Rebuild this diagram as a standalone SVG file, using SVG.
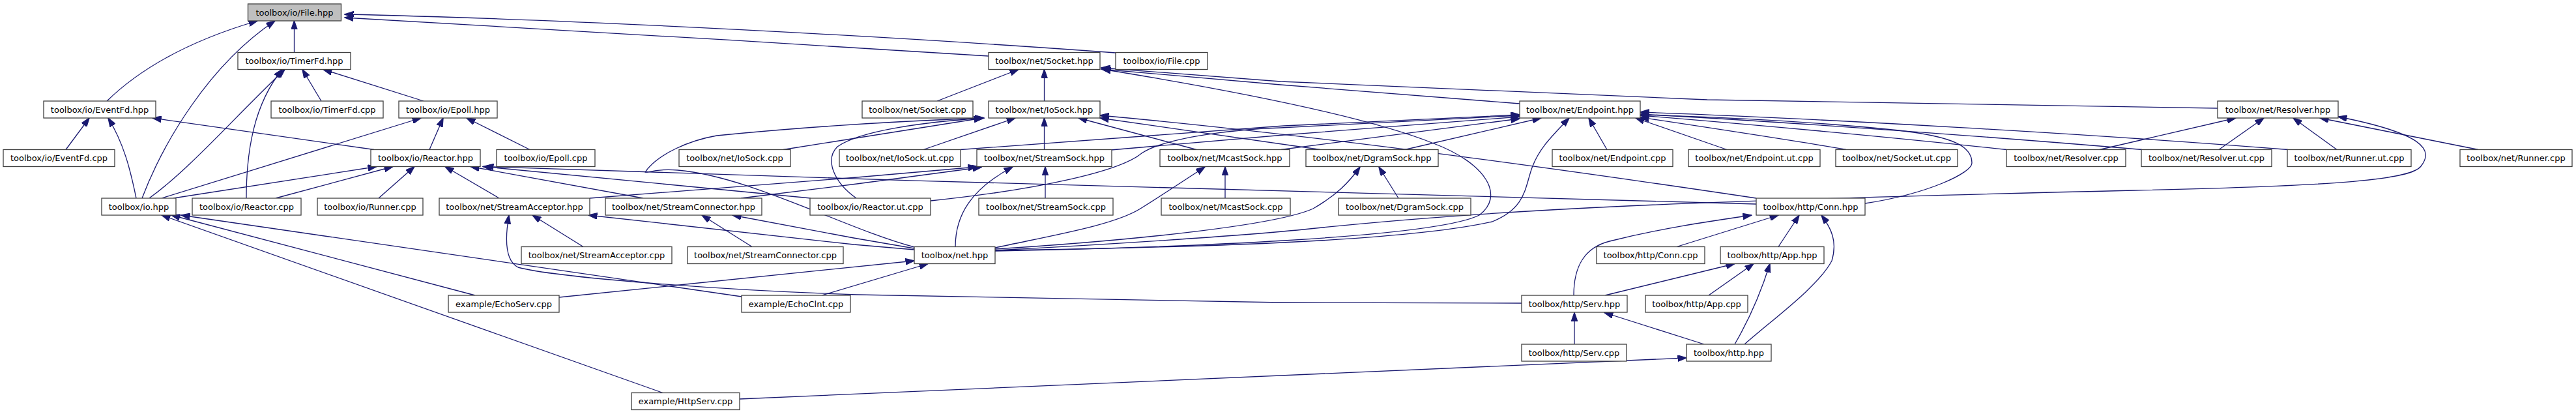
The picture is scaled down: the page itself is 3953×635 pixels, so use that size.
<svg xmlns="http://www.w3.org/2000/svg" width="3953" height="635" viewBox="0 0 3953 635">
<style>
.n rect{fill:#ffffff;stroke:#404040;stroke-width:1.3}
.n.root rect{fill:#bfbfbf}
.n text{font-family:"DejaVu Sans",sans-serif;font-size:13px;fill:#000;text-anchor:middle}
.e path{fill:none;stroke:#191970;stroke-width:1.3;marker-end:url(#arr)}
</style>
<defs>
<marker id="arr" markerUnits="userSpaceOnUse" markerWidth="14" markerHeight="10" viewBox="0 0 13 9" refX="12.5" refY="4.5" orient="auto">
<path d="M0,0 L13,4.5 L0,9 z" fill="#191970" stroke="#191970"/>
</marker>
</defs>
<rect x="0" y="0" width="3953" height="635" fill="#ffffff"/>
<g id="edges" class="e">
<path d="M1712,81 C1400,58 900,30 529,22"/>
<path d="M1517,86 C1200,66 800,42 529,27"/>
<path d="M451.5,80.5 L451.5,32"/>
<path d="M164,155 C200,120 265,70 395,32"/>
<path d="M218,304 C250,220 320,100 422,32"/>
<path d="M209,304 C200,260 190,220 166,181"/>
<path d="M101,229.5 L137,181"/>
<path d="M574,229.5 L234,181"/>
<path d="M229,304 C290,260 350,190 437,106.5"/>
<path d="M378,304 C378,230 390,160 433,106.5"/>
<path d="M493,155 L464,106.5"/>
<path d="M650,155 L496,106.5"/>
<path d="M248,304 L646,181"/>
<path d="M266,304 L578,255.5"/>
<path d="M423,304 L603,255.5"/>
<path d="M581,304 L636,255.5"/>
<path d="M659,229.5 L680,181"/>
<path d="M813,229.5 L716,181"/>
<path d="M766,304 L683,255.5"/>
<path d="M987,304 L722,255.5"/>
<path d="M1244,304 L741,255.5"/>
<path d="M2695,313 C2200,300 1400,279 744,255.5"/>
<path d="M2695,304 C2400,260 2000,205 1688,177"/>
<path d="M2026,229.5 L1688,181"/>
<path d="M1836,229.5 L1655,181"/>
<path d="M1602.5,229.5 L1602.5,181"/>
<path d="M1417,229.5 L1558,181"/>
<path d="M1202,229.5 L1508,181"/>
<path d="M1403,379 C1300,352 1150,270 1040,261 C1005,258 992,266 990,264 C1010,235 1060,215 1100,208 C1250,193 1400,185 1510,181"/>
<path d="M1314,304 C1280,280 1265,245 1285,225 C1320,200 1420,187 1510,181"/>
<path d="M905,304 L1315,272 L1499,256"/>
<path d="M1137,304 L1315,282 L1506,256.5"/>
<path d="M1604,304 L1604,256"/>
<path d="M1466,378.5 C1466,330 1490,290 1554,256"/>
<path d="M1880,304 L1880,256"/>
<path d="M1527,380 C1620,360 1710,345 1750,320 C1790,295 1820,275 1849,256"/>
<path d="M2146,304 L2116,256"/>
<path d="M1527,382 C1750,368 1960,345 2015,320 C2050,300 2070,280 2087,256"/>
<path d="M2466,229.5 L2438,181"/>
<path d="M2650,229.5 L2510,181"/>
<path d="M2833,229.5 C2750,215 2650,200 2517,180"/>
<path d="M3079,229.5 C2900,210 2700,192 2517,177"/>
<path d="M3287,229.5 C3000,205 2700,185 2517,175"/>
<path d="M3511,229.5 C3200,205 2800,182 2517,172"/>
<path d="M2862,312 C2960,297 3026,265 3026,250 C3026,225 3000,210 2914,200 C2800,188 2650,180 2517,176"/>
<path d="M2156,229.5 L2365,181"/>
<path d="M1966,229.5 L2332,182"/>
<path d="M1705,230 L1970,207 L2332,179"/>
<path d="M1474,229.5 L1970,193 L2332,176"/>
<path d="M1428,308 C1600,290 1720,262 1752,235 C1790,210 1900,198 1965,196 L2332,177"/>
<path d="M1527,384 C1800,380 2150,372 2290,340 C2340,320 2340,290 2350,260 C2360,230 2380,210 2408,181"/>
<path d="M1527,385 C1800,380 2200,365 2270,330 C2310,300 2280,250 2200,220 C2100,180 1900,140 1691,106"/>
<path d="M2332,159 L1965,130 L1690,106"/>
<path d="M3403,166 L2620,153 L1965,125 L1690,104"/>
<path d="M1438,155 L1563,106.5"/>
<path d="M1602.5,155 L1602.5,106.5"/>
<path d="M3222,229.5 L3431,181"/>
<path d="M3405,229.5 L3474,181"/>
<path d="M3586,229.5 L3519,181"/>
<path d="M3803,229.5 L3560,181"/>
<path d="M1527,384 C1700,375 1900,362 2000,352 C2300,320 2600,308 3275,292 C3600,285 3700,275 3715,255 C3735,230 3720,205 3588,179"/>
<path d="M729,453 L263,330"/>
<path d="M1138,455 L278,330"/>
<path d="M1017,602.5 L248,330"/>
<path d="M858,456 L1403,400"/>
<path d="M1261,453 L1424,404.5"/>
<path d="M1403,383 L1310,375 L903,330"/>
<path d="M1403,381 L1310,365 L1124,330"/>
<path d="M895,378.5 L817,330"/>
<path d="M1154,378.5 L1077,330"/>
<path d="M2335,465 L1965,464 L1315,452 C1100,445 850,425 795,410 C775,400 775,365 781,330"/>
<path d="M2615,528 L2462,479.5"/>
<path d="M2416,528 L2416,479.5"/>
<path d="M1135,612 L2588,549"/>
<path d="M2415,453 C2415,410 2430,380 2470,370 C2550,350 2620,340 2688,330"/>
<path d="M2463,453 L2662,404.5"/>
<path d="M2573,378.5 L2729,330"/>
<path d="M2729,378.5 L2761,330"/>
<path d="M2677,528 C2720,490 2790,440 2811,400 C2820,370 2810,350 2795,330"/>
<path d="M2622,453 L2691,404.5"/>
<path d="M2662,528 C2690,480 2705,440 2716,404.5"/>
</g>
<g id="n1" class="n root"><rect x="380.5" y="6" width="143" height="26"/><text x="452" y="23.5">toolbox/io/File.hpp</text></g>
<g id="n2" class="n"><rect x="365" y="80.5" width="173" height="26"/><text x="451.5" y="98">toolbox/io/TimerFd.hpp</text></g>
<g id="n3" class="n"><rect x="1517" y="80.5" width="171" height="26"/><text x="1602.5" y="98">toolbox/net/Socket.hpp</text></g>
<g id="n4" class="n"><rect x="1712" y="80.5" width="141" height="26"/><text x="1782.5" y="98">toolbox/io/File.cpp</text></g>
<g id="n5" class="n"><rect x="67" y="155" width="172" height="26"/><text x="153" y="172.5">toolbox/io/EventFd.hpp</text></g>
<g id="n6" class="n"><rect x="416" y="155" width="172" height="26"/><text x="502" y="172.5">toolbox/io/TimerFd.cpp</text></g>
<g id="n7" class="n"><rect x="612" y="155" width="151" height="26"/><text x="687.5" y="172.5">toolbox/io/Epoll.hpp</text></g>
<g id="n8" class="n"><rect x="1323" y="155" width="170" height="26"/><text x="1408" y="172.5">toolbox/net/Socket.cpp</text></g>
<g id="n9" class="n"><rect x="1517" y="155" width="171" height="26"/><text x="1602.5" y="172.5">toolbox/net/IoSock.hpp</text></g>
<g id="n10" class="n"><rect x="2332" y="155" width="185" height="26"/><text x="2424.5" y="172.5">toolbox/net/Endpoint.hpp</text></g>
<g id="n11" class="n"><rect x="3403" y="155" width="185" height="26"/><text x="3495.5" y="172.5">toolbox/net/Resolver.hpp</text></g>
<g id="n12" class="n"><rect x="5" y="229.5" width="171" height="26"/><text x="90.5" y="247">toolbox/io/EventFd.cpp</text></g>
<g id="n13" class="n"><rect x="569" y="229.5" width="168" height="26"/><text x="653" y="247">toolbox/io/Reactor.hpp</text></g>
<g id="n14" class="n"><rect x="762" y="229.5" width="151" height="26"/><text x="837.5" y="247">toolbox/io/Epoll.cpp</text></g>
<g id="n15" class="n"><rect x="1042" y="229.5" width="171" height="26"/><text x="1127.5" y="247">toolbox/net/IoSock.cpp</text></g>
<g id="n16" class="n"><rect x="1288" y="229.5" width="186" height="26"/><text x="1381" y="247">toolbox/net/IoSock.ut.cpp</text></g>
<g id="n17" class="n"><rect x="1499" y="229.5" width="207" height="26"/><text x="1602.5" y="247">toolbox/net/StreamSock.hpp</text></g>
<g id="n18" class="n"><rect x="1780" y="229.5" width="199" height="26"/><text x="1879.5" y="247">toolbox/net/McastSock.hpp</text></g>
<g id="n19" class="n"><rect x="2004" y="229.5" width="203" height="26"/><text x="2105.5" y="247">toolbox/net/DgramSock.hpp</text></g>
<g id="n20" class="n"><rect x="2382" y="229.5" width="185" height="26"/><text x="2474.5" y="247">toolbox/net/Endpoint.cpp</text></g>
<g id="n21" class="n"><rect x="2591" y="229.5" width="202" height="26"/><text x="2692" y="247">toolbox/net/Endpoint.ut.cpp</text></g>
<g id="n22" class="n"><rect x="2817" y="229.5" width="187" height="26"/><text x="2910.5" y="247">toolbox/net/Socket.ut.cpp</text></g>
<g id="n23" class="n"><rect x="3079" y="229.5" width="183" height="26"/><text x="3170.5" y="247">toolbox/net/Resolver.cpp</text></g>
<g id="n24" class="n"><rect x="3286" y="229.5" width="200" height="26"/><text x="3386" y="247">toolbox/net/Resolver.ut.cpp</text></g>
<g id="n25" class="n"><rect x="3510" y="229.5" width="190" height="26"/><text x="3605" y="247">toolbox/net/Runner.ut.cpp</text></g>
<g id="n26" class="n"><rect x="3775" y="229.5" width="172" height="26"/><text x="3861" y="247">toolbox/net/Runner.cpp</text></g>
<g id="n27" class="n"><rect x="156" y="304" width="114" height="26"/><text x="213" y="321.5">toolbox/io.hpp</text></g>
<g id="n28" class="n"><rect x="295" y="304" width="167" height="26"/><text x="378.5" y="321.5">toolbox/io/Reactor.cpp</text></g>
<g id="n29" class="n"><rect x="487" y="304" width="162" height="26"/><text x="568" y="321.5">toolbox/io/Runner.cpp</text></g>
<g id="n30" class="n"><rect x="674" y="304" width="231" height="26"/><text x="789.5" y="321.5">toolbox/net/StreamAcceptor.hpp</text></g>
<g id="n31" class="n"><rect x="929" y="304" width="240" height="26"/><text x="1049" y="321.5">toolbox/net/StreamConnector.hpp</text></g>
<g id="n32" class="n"><rect x="1243" y="304" width="185" height="26"/><text x="1335.5" y="321.5">toolbox/io/Reactor.ut.cpp</text></g>
<g id="n33" class="n"><rect x="1502" y="304" width="206" height="26"/><text x="1605" y="321.5">toolbox/net/StreamSock.cpp</text></g>
<g id="n34" class="n"><rect x="1782" y="304" width="198" height="26"/><text x="1881" y="321.5">toolbox/net/McastSock.cpp</text></g>
<g id="n35" class="n"><rect x="2054" y="304" width="203" height="26"/><text x="2155.5" y="321.5">toolbox/net/DgramSock.cpp</text></g>
<g id="n36" class="n"><rect x="2695" y="304" width="167" height="26"/><text x="2778.5" y="321.5">toolbox/http/Conn.hpp</text></g>
<g id="n37" class="n"><rect x="800" y="378.5" width="231" height="26"/><text x="915.5" y="396">toolbox/net/StreamAcceptor.cpp</text></g>
<g id="n38" class="n"><rect x="1055" y="378.5" width="239" height="26"/><text x="1174.5" y="396">toolbox/net/StreamConnector.cpp</text></g>
<g id="n39" class="n"><rect x="1403" y="378.5" width="124" height="26"/><text x="1465" y="396">toolbox/net.hpp</text></g>
<g id="n40" class="n"><rect x="2450" y="378.5" width="166" height="26"/><text x="2533" y="396">toolbox/http/Conn.cpp</text></g>
<g id="n41" class="n"><rect x="2640" y="378.5" width="159" height="26"/><text x="2719.5" y="396">toolbox/http/App.hpp</text></g>
<g id="n42" class="n"><rect x="688" y="453" width="170" height="26"/><text x="773" y="470.5">example/EchoServ.cpp</text></g>
<g id="n43" class="n"><rect x="1138" y="453" width="167" height="26"/><text x="1221.5" y="470.5">example/EchoClnt.cpp</text></g>
<g id="n44" class="n"><rect x="2335" y="453" width="162" height="26"/><text x="2416" y="470.5">toolbox/http/Serv.hpp</text></g>
<g id="n45" class="n"><rect x="2525" y="453" width="157" height="26"/><text x="2603.5" y="470.5">toolbox/http/App.cpp</text></g>
<g id="n46" class="n"><rect x="2335" y="528" width="161" height="26"/><text x="2415.5" y="545.5">toolbox/http/Serv.cpp</text></g>
<g id="n47" class="n"><rect x="2588" y="528" width="130" height="26"/><text x="2653" y="545.5">toolbox/http.hpp</text></g>
<g id="n48" class="n"><rect x="969" y="602.5" width="166" height="26"/><text x="1052" y="620">example/HttpServ.cpp</text></g>
</svg>
